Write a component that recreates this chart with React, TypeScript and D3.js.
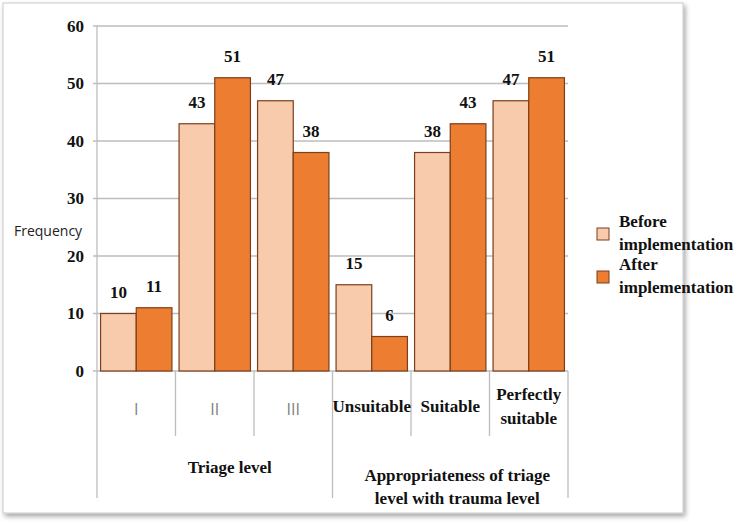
import React from "react";
import * as d3 from "d3";

const categories = ["I", "II", "III", "Unsuitable", "Suitable", "Perfectly suitable"];
const categoryLines = [["I"], ["II"], ["III"], ["Unsuitable"], ["Suitable"], ["Perfectly", "suitable"]];
const before = [10, 43, 47, 15, 38, 47];
const after = [11, 51, 38, 6, 43, 51];
const seriesNames = ["Before implementation", "After implementation"];
const yTicks = [0, 10, 20, 30, 40, 50, 60];
const groupTitles = [
  { label: ["Triage level"], from: 0, to: 2 },
  { label: ["Appropriateness of triage", "level with trauma level"], from: 3, to: 5 },
];

const W = 742;
const H = 523;
const left = 97;
const right = 568;
const top = 26;
const bottom = 371;
const colors = ["#f8cbad", "#ed7d31"];
const strokeCol = "#7b3f1c";
const serifStyle = { fontFamily: "Liberation Serif", fontWeight: 700 } as React.CSSProperties;
const sansStyle = { fontFamily: "Open Sans" } as React.CSSProperties;

export default function App() {
  const x = d3.scaleBand<string>().domain(categories).range([left, right]).padding(0);
  const inner = d3.scaleBand<number>().domain([0, 1]).range([0, x.bandwidth()]).paddingOuter(0.1).paddingInner(0);
  const y = d3.scaleLinear().domain([0, 60]).range([bottom, top]);
  const series = [before, after];
  const bw = x.bandwidth();
  const isRoman = (i: number) => i < 3;

  return (
    <svg width={W} height={H} style={{ position: "absolute", left: 0, top: 0, background: "#fff" }}>
      <defs>
        <filter id="shadow" x="-5%" y="-5%" width="115%" height="115%">
          <feDropShadow dx="2" dy="3" stdDeviation="2.5" floodColor="#000" floodOpacity="0.35" />
        </filter>
      </defs>
      <rect x={3} y={3} width={680} height={510} fill="#fff" stroke="#c9c9c9" strokeWidth={1} filter="url(#shadow)" />

      {yTicks.map((t) => (
        <line key={"g" + t} x1={left - 4} x2={right} y1={y(t)} y2={y(t)} stroke="#bdbdbd" strokeWidth={1.3} />
      ))}
      <line x1={left} x2={left} y1={top} y2={bottom} stroke="#bdbdbd" strokeWidth={1.3} />

      {yTicks.map((t) => (
        <text key={"t" + t} x={84} y={y(t)} dy="0.35em" textAnchor="end" style={serifStyle} fontSize={17} fill="#111">
          {t}
        </text>
      ))}
      <text x={14} y={231} dy="0.35em" style={sansStyle} fontSize={14} fill="#222">Frequency</text>

      {categories.map((c, i) =>
        series.map((s, k) => {
          const bx = (x(c) as number) + (inner(k) as number);
          return (
            <rect key={c + k} x={bx} y={y(s[i])} width={inner.bandwidth()} height={bottom - y(s[i])} fill={colors[k]} stroke={strokeCol} strokeWidth={1.2} />
          );
        })
      )}

      {categories.map((c, i) =>
        series.map((s, k) => {
          const bx = (x(c) as number) + (inner(k) as number) + inner.bandwidth() / 2;
          return (
            <text key={"v" + c + k} x={bx} y={y(s[i]) - 16} textAnchor="middle" style={serifStyle} fontSize={17} fill="#111">
              {s[i]}
            </text>
          );
        })
      )}

      {categories.map((c, i) => {
        const major = i === 0 || i === 3;
        return (
          <line key={"d" + c} x1={x(c) as number} x2={x(c) as number} y1={bottom} y2={major ? 498 : 436} stroke="#bdbdbd" strokeWidth={1.3} />
        );
      })}
      <line x1={right} x2={right} y1={bottom} y2={498} stroke="#bdbdbd" strokeWidth={1.3} />

      {categories.map((c, i) => {
        const cx = (x(c) as number) + bw / 2;
        const lines = categoryLines[i];
        if (isRoman(i)) {
          return (
            <text key={"c" + c} x={cx} y={409} dy="0.35em" textAnchor="middle" style={sansStyle} fontSize={16} fill="#808080">
              {c}
            </text>
          );
        }
        const y0 = 406 - ((lines.length - 1) * 24) / 2;
        return (
          <text key={"c" + c} textAnchor="middle" style={serifStyle} fontSize={17} fill="#111">
            {lines.map((l, j) => (
              <tspan key={j} x={cx} y={y0 + j * 24} dy="0.35em">{l}</tspan>
            ))}
          </text>
        );
      })}

      {groupTitles.map((g, gi) => {
        const x0 = x(categories[g.from]) as number;
        const x1 = (x(categories[g.to]) as number) + bw;
        const cx = (x0 + x1) / 2 + (gi === 0 ? 15 : 7);
        const y0 = gi === 0 ? 467 : 475;
        return (
          <text key={"gt" + gi} textAnchor="middle" style={serifStyle} fontSize={17} fill="#111">
            {g.label.map((l, j) => (
              <tspan key={j} x={cx} y={y0 + j * 23} dy="0.35em">{l}</tspan>
            ))}
          </text>
        );
      })}

      {seriesNames.map((n, k) => {
        const ly = 234 + k * 43;
        const words = n.split(" ");
        return (
          <g key={"l" + k}>
            <rect x={597} y={ly - 6} width={12} height={12} fill={colors[k]} stroke={strokeCol} strokeWidth={1} />
            <text style={serifStyle} fontSize={17} fill="#111">
              <tspan x={619} y={ly - 13} dy="0.35em">{words[0]}</tspan>
              <tspan x={619} y={ly + 10} dy="0.35em">{words[1]}</tspan>
            </text>
          </g>
        );
      })}
    </svg>
  );
}
